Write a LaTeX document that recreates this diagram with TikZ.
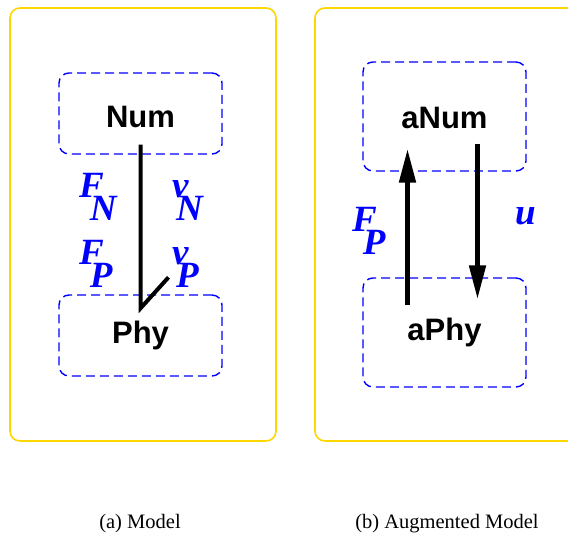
\documentclass[tikz,border=0pt]{standalone}
\usepackage{fontspec}
\setmainfont{Liberation Serif}
\setsansfont{Liberation Sans}
\usepackage{tikz}
\usetikzlibrary{arrows.meta, positioning, calc}
\definecolor{panelgold}{RGB}{255,215,0}
\definecolor{boxblue}{RGB}{0,0,255}
\newcommand{\sublab}[3]{#1\kern#3\raisebox{-0.6em}{#2}}
\tikzset{
  panel/.style={draw=panelgold, line width=1.6pt, rounded corners=10pt},
  modbox/.style={rectangle, draw=boxblue, dash pattern=on 9pt off 5pt,
    line width=1.4pt, rounded corners=10pt, minimum width=163pt,
    font=\sffamily\bfseries\fontsize{31}{36}\selectfont, inner sep=0pt},
  varlab/.style={text=boxblue, anchor=base west, inner sep=0pt,
    font=\bfseries\itshape\fontsize{37}{40}\selectfont},
  caplab/.style={anchor=base, inner sep=0pt, font=\fontsize{20.5}{24}\selectfont},
  flow/.style={line width=5pt, -{Triangle[length=34pt,width=16pt]}},
  line/.style={line width=4pt, miter limit=10}
}
\begin{document}
\begin{tikzpicture}[x=1pt, y=-1pt]
  \useasboundingbox (0,0) rectangle (568,540);
  \clip (0,0) rectangle (568,540);
  % panels
  \draw[panel] (10,8) rectangle (276,441);
  \draw[panel] (315,8) rectangle (600,441);
  % (a) model
  \node[modbox, minimum height=81pt, text height=29pt, text depth=0pt] (num) at (140.5,113.5) {Num};
  \node[modbox, minimum height=81pt] (phy) at (140.5,335.5) {Phy};
  \coordinate (tip) at ([yshift=-14pt]phy.north);
  \draw[line] ([yshift=10pt]num.south) -- (tip) -- ++(28,-31);
  \node[varlab] (fn) at (79,198) {\sublab{F}{N}{-0.38em}};
  \node[varlab] (vn) at (172,198) {\sublab{v}{N}{-0.34em}};
  \node[varlab] (fp) at (79,265) {\sublab{F}{P}{-0.38em}};
  \node[varlab] (vp) at (172,265) {\sublab{v}{P}{-0.34em}};
  % (b) augmented model
  \node[modbox, minimum height=109pt, text height=25pt, text depth=0pt] (anum) at (444.5,116.5) {aNum};
  \node[modbox, minimum height=109pt] (aphy) at (444.5,332.5) {aPhy};
  \draw[flow] ([xshift=-37pt,yshift=-28pt]aphy.north) -- ([xshift=-37pt,yshift=23pt]anum.south);
  \draw[flow] ([xshift=33pt,yshift=28pt]anum.south) -- ([xshift=33pt,yshift=-22pt]aphy.north);
  \node[varlab] (afp) at (352,232) {\sublab{F}{P}{-0.38em}};
  \node[varlab] (au) at (515,225) {u};
  % captions
  \node[caplab] (capa) at (140,528) {(a) Model};
  \node[caplab] (capb) at (447,528) {(b) Augmented Model};
\end{tikzpicture}
\end{document}
